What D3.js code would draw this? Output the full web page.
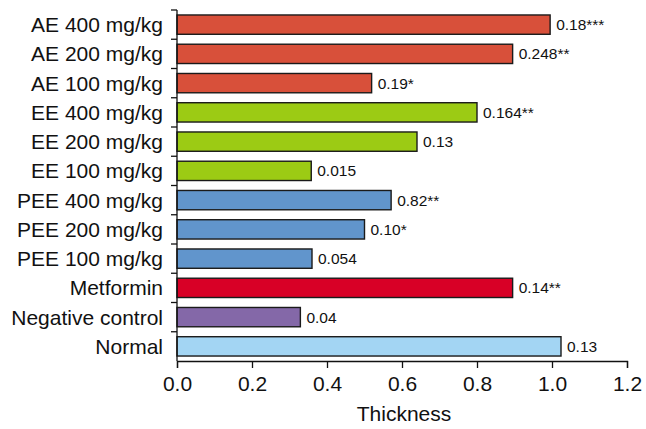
<!DOCTYPE html>
<html>
<head>
<meta charset="utf-8">
<script src="https://cdn.jsdelivr.net/npm/d3@7"></script>
<style>
  body { margin: 0; background: #fff; }
  text { font-family: "Liberation Sans", Arial, sans-serif; fill: #111; }
</style>
</head>
<body>
<svg id="graph" width="646" height="429"></svg>
<script>
// data
const categories = ["AE 400 mg/kg", "AE 200 mg/kg", "AE 100 mg/kg", "EE 400 mg/kg", "EE 200 mg/kg", "EE 100 mg/kg",
  "PEE 400 mg/kg", "PEE 200 mg/kg", "PEE 100 mg/kg", "Metformin", "Negative control", "Normal"]
const values = [0.995, 0.895, 0.519, 0.80, 0.64, 0.358, 0.571, 0.50, 0.36, 0.895, 0.329, 1.024]
const valueLabels = ["0.18***", "0.248**", "0.19*", "0.164**", "0.13", "0.015", "0.82**", "0.10*", "0.054", "0.14**", "0.04", "0.13"]
const groups = ["AE", "AE", "AE", "EE", "EE", "EE", "PEE", "PEE", "PEE", "Met", "Neg", "Normal"]
const xTicks = [0, 0.2, 0.4, 0.6, 0.8, 1.0, 1.2]

const colors = {AE: "#d8503a", EE: "#9ccb14", PEE: "#6195cc", Met: "#d80026", Neg: "#8468a8", Normal: "#a3d5f3"}

var svg = d3.select("#graph")
var plotLeft = 177, plotRight = 627, plotTop = 10, plotBottom = 361

var x = d3.scaleLinear().domain([0, 1.2]).range([plotLeft, plotRight])
var y = d3.scaleBand().domain(categories).range([plotTop, plotBottom]).paddingInner(0.34).paddingOuter(0.17)

// bars
svg.selectAll("rect.bar").data(categories).enter().append("rect")
  .attr("class", "bar")
  .attr("x", x(0))
  .attr("y", d => y(d))
  .attr("width", (d, i) => x(values[i]) - x(0))
  .attr("height", y.bandwidth())
  .style("fill", (d, i) => colors[groups[i]])
  .style("stroke", "#1a1a1a")
  .style("stroke-width", 1.4)

// value labels
svg.selectAll("text.val").data(categories).enter().append("text")
  .attr("class", "val")
  .attr("x", (d, i) => x(values[i]) + 6)
  .attr("y", d => y(d) + y.bandwidth() / 2)
  .attr("dy", "0.36em")
  .style("font-size", "15.5px")
  .text((d, i) => valueLabels[i])

// y axis: line with ticks at band boundaries
var yBounds = d3.range(categories.length).map(i => plotTop + i * y.step())
svg.append("line").attr("x1", plotLeft).attr("x2", plotLeft).attr("y1", plotTop).attr("y2", plotBottom)
  .style("stroke", "#111").style("stroke-width", 1.3)
svg.selectAll("line.ytick").data(yBounds).enter().append("line")
  .attr("class", "ytick")
  .attr("x1", plotLeft - 6).attr("x2", plotLeft)
  .attr("y1", d => d).attr("y2", d => d)
  .style("stroke", "#111").style("stroke-width", 1.3)

svg.selectAll("text.cat").data(categories).enter().append("text")
  .attr("class", "cat")
  .attr("x", plotLeft - 14)
  .attr("y", d => y(d) + y.bandwidth() / 2)
  .attr("dy", "0.36em")
  .attr("text-anchor", "end")
  .style("font-size", "21px")
  .text(d => d)

// x axis
var xAxis = d3.axisBottom(x).tickValues(xTicks).tickFormat(d3.format(".1f")).tickSize(7).tickPadding(8)
var gx = svg.append("g").attr("transform", "translate(0," + plotBottom + ")").call(xAxis)
gx.select(".domain").style("stroke", "#111").style("stroke-width", 1.3)
gx.selectAll(".tick line").style("stroke", "#111").style("stroke-width", 1.3)
gx.selectAll(".tick text").style("font-size", "21px").style("font-family", "'Liberation Sans', Arial, sans-serif").style("fill", "#111")

svg.append("text")
  .attr("x", 404)
  .attr("y", 421)
  .attr("text-anchor", "middle")
  .style("font-size", "21px")
  .text("Thickness")
</script>
</body>
</html>
